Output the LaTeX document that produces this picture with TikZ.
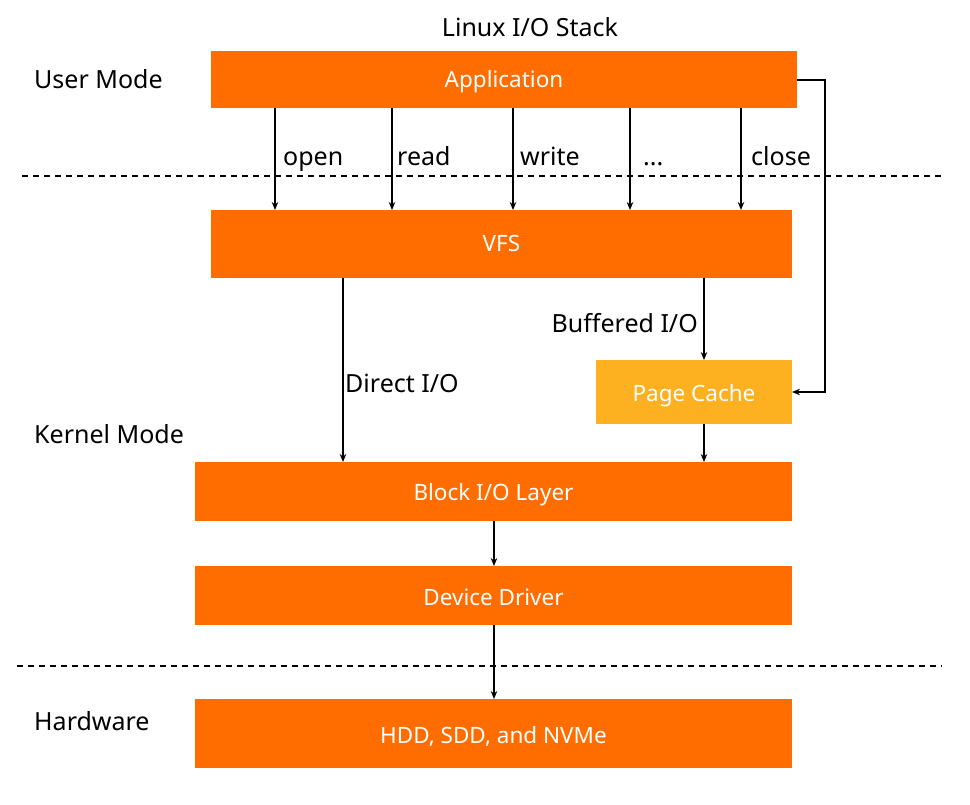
\documentclass[tikz,border=0pt]{standalone}
\usepackage{fontspec}
\setmainfont{Noto Sans}
\usetikzlibrary{arrows.meta}
\definecolor{boxorange}{RGB}{255,109,0}
\definecolor{cacheyellow}{RGB}{253,176,32}
\begin{document}
\begin{tikzpicture}[x=1pt,y=-1pt,
  blk/.style={draw=none,text=white,font=\fontsize{22.5}{26}\selectfont,inner sep=0pt,anchor=base},
  lbl/.style={font=\fontsize{25}{29}\selectfont,text=black,inner sep=0pt},
  arr/.style={line width=1.4pt,-{Stealth[length=8pt,width=6.5pt]}},
  sep/.style={line width=1.3pt,dash pattern=on 6pt off 5pt}]
\useasboundingbox (0,0) rectangle (970,805);
\fill[white] (0,0) rectangle (970,805);
% boxes
\path[fill=boxorange] (211,51) rectangle (797,108);
\node[blk] (app) at (504,88) {Application};
\path[fill=boxorange] (211,210) rectangle (792,278);
\node[blk] (vfs) at (501.5,252) {VFS};
\path[fill=cacheyellow] (596,360) rectangle (792,424);
\node[blk] (pc) at (694,401) {Page Cache};
\path[fill=boxorange] (195,462) rectangle (792,521);
\node[blk] (bio) at (493.5,500) {Block I/O Layer};
\path[fill=boxorange] (195,566) rectangle (792,625);
\node[blk] (dd) at (493.5,605) {Device Driver};
\path[fill=boxorange] (195,699) rectangle (792,768);
\node[blk] (hw) at (493.5,743) {HDD, SDD, and NVMe};
% coordinates
\foreach \x/\n in {275/a,392/b,513/c,630/d,741/e}{
  \coordinate (t\n) at (\x,108);
  \coordinate (b\n) at (\x,210);
}
\coordinate (appR) at (797,80);
\coordinate (pcR) at (792,392);
\coordinate (vfsL) at (343,278);
\coordinate (bioL) at (343,462);
\coordinate (vfsR) at (704,278);
\coordinate (pcT) at (704,360);
\coordinate (pcB) at (704,424);
\coordinate (bioR) at (704,462);
\coordinate (bioB) at (494,521);
\coordinate (ddT) at (494,566);
\coordinate (ddB) at (494,625);
\coordinate (hwT) at (494,699);
% separators
\coordinate (s1a) at (22,176); \coordinate (s1b) at (942,176);
\coordinate (s2a) at (17,666); \coordinate (s2b) at (942,666);
\draw[sep] (s1a) -- (s1b);
\draw[sep] (s2a) -- (s2b);
% arrows
\foreach \n in {a,b,c,d,e}{\draw[arr] (t\n) -- (b\n);}
\draw[arr] (appR) -- (825,80) -- (825,392) -- (pcR);
\draw[arr] (vfsL) -- (bioL);
\draw[arr] (vfsR) -- (pcT);
\draw[arr] (pcB) -- (bioR);
\draw[arr] (bioB) -- (ddT);
\draw[arr] (ddB) -- (hwT);
% labels
\node[lbl,anchor=base west] (lopen) at (283,166) {open};
\node[lbl,anchor=base west] (lread) at (397,166) {read};
\node[lbl,anchor=base west] (lwrite) at (520,166) {write};
\node[lbl,anchor=base west] (ldots) at (643,166) {...};
\node[lbl,anchor=base west] (lclose) at (751,166) {close};
\node[lbl,anchor=base east] (lbuf) at (698,333) {Buffered I/O};
\node[lbl,anchor=base west] (ldir) at (345,392) {Direct I/O};
\node[lbl,anchor=base] (title) at (530,37) {Linux I/O Stack};
\node[lbl,anchor=base west] (user) at (34,89) {User Mode};
\node[lbl,anchor=base west] (kern) at (34,443) {Kernel Mode};
\node[lbl,anchor=base west] (hwl) at (34,730) {Hardware};
\end{tikzpicture}
\end{document}
